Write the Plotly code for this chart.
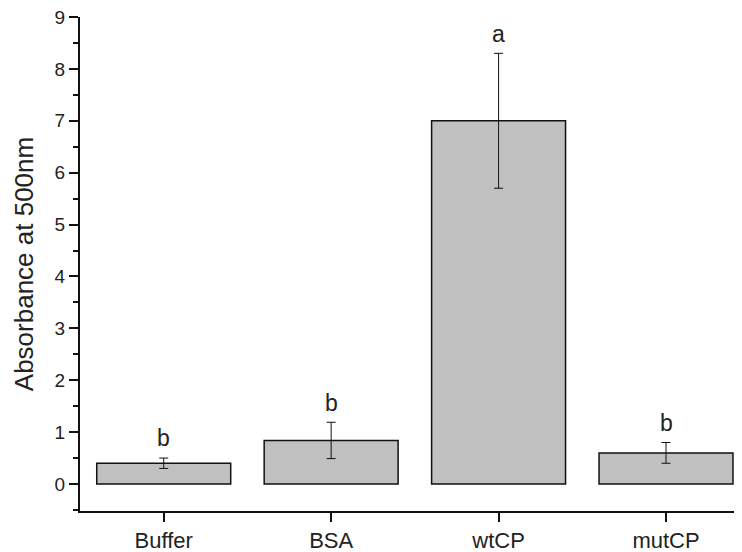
import plotly.graph_objects as go

categories = ["Buffer", "BSA", "wtCP", "mutCP"]
values = [0.4, 0.84, 7.0, 0.6]
errors = [0.1, 0.35, 1.3, 0.2]
letters = ["b", "b", "a", "b"]

fig = go.Figure()
fig.add_trace(go.Bar(
    x=categories, y=values, width=0.8,
    marker=dict(color="#c0c0c0", line=dict(color="#111", width=1.5)),
    error_y=dict(type="data", array=errors, visible=True, color="#111", thickness=1, width=4.5),
))
for c, v, e, l in zip(categories, values, errors, letters):
    fig.add_annotation(x=c, y=v + e + 0.38, text=l, showarrow=False,
                       font=dict(size=23, color="#222"), yanchor="middle")

# the page body adds an 8px offset, so the figure is sized to fit the window
fig.update_layout(
    width=734, height=544,
    margin=dict(l=72, r=4, t=9, b=41),
    plot_bgcolor="white", paper_bgcolor="white",
    font=dict(family="Liberation Sans, Arial, sans-serif", color="#222"),
    showlegend=False,
)
fig.update_xaxes(
    range=[-0.5, 3.43], showline=True, linecolor="#111", linewidth=2,
    ticks="outside", ticklen=9, tickwidth=2, tickcolor="#111",
    tickfont=dict(size=22), showgrid=False, automargin=False,
)
fig.update_yaxes(
    range=[-0.52, 9], showline=True, linecolor="#111", linewidth=2,
    tickmode="linear", tick0=0, dtick=1,
    ticks="outside", ticklen=9, tickwidth=2, tickcolor="#111",
    minor=dict(ticks="outside", ticklen=5, tickwidth=2, tickcolor="#111", dtick=0.5, tick0=0),
    tickfont=dict(size=19), showgrid=False, zeroline=False, automargin=False,
    ticklabeloverflow="allow",
    title=dict(text="Absorbance at 500nm", font=dict(size=26), standoff=14),
)
fig.write_html("out.html")
